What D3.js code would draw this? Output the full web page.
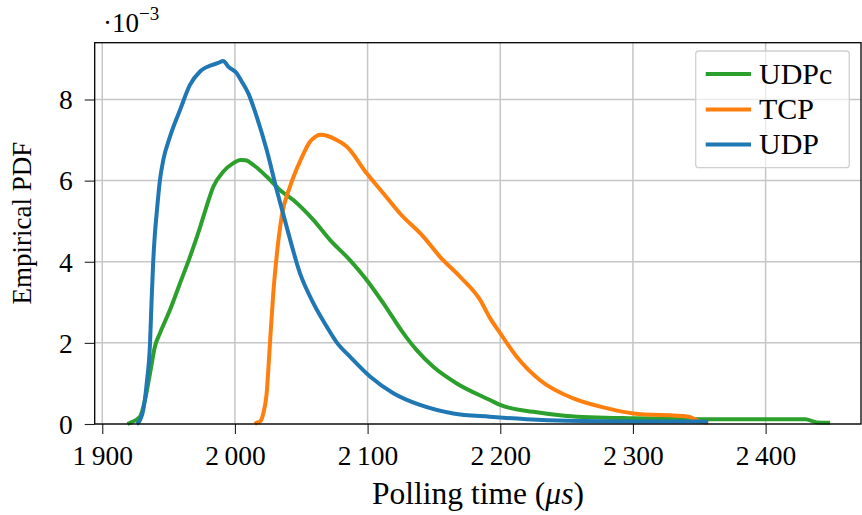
<!DOCTYPE html>
<html><head><meta charset="utf-8">
<script src="https://cdn.jsdelivr.net/npm/d3@7"></script>
<style>
body{margin:0;background:#fff}
svg{display:block}
text{font-family:"Liberation Serif","Times New Roman",serif;fill:#000}
</style>
</head><body>
<svg id="chart" width="862" height="515"></svg>
<script>
// ---- data (y in units of 1e-3) ----
const seriesNames = ["UDPc", "TCP", "UDP"];
const seriesColors = ["#2ca02c", "#ff7f0e", "#1f77b4"];

const xUDPc = [1919, 1921.0, 1928.4, 1932.2, 1936.0, 1939.7, 1943.5, 1951.0, 1958.6, 1966.1, 1973.7, 1978.0, 1983.7, 1991.2, 1998.8, 2004.0, 2008.0, 2013.8, 2023.9, 2033.9, 2044.0, 2059.1, 2071.6, 2086.7, 2099.3, 2111.8, 2126.9, 2137.0, 2149.5, 2167.2, 2192.3, 2199.9, 2224.9, 2250.1, 2300.3, 2350.6, 2400.0, 2429.8, 2438.6, 2448.6];
const yUDPc = [0, 0.03, 0.18, 0.59, 1.25, 1.91, 2.24, 2.81, 3.47, 4.12, 4.85, 5.30, 5.85, 6.22, 6.43, 6.51, 6.50, 6.39, 6.10, 5.77, 5.52, 5.03, 4.54, 4.04, 3.55, 2.98, 2.24, 1.82, 1.41, 1.00, 0.59, 0.47, 0.30, 0.20, 0.14, 0.12, 0.12, 0.12, 0.04, 0.03];

const xTCP = [2015, 2016.4, 2018.9, 2021.4, 2023.9, 2026.4, 2028.9, 2031.5, 2035.2, 2041.5, 2049.0, 2056.6, 2060.5, 2064.1, 2070.0, 2076.7, 2084.2, 2099.3, 2111.8, 2124.4, 2142.0, 2154.6, 2169.7, 2184.8, 2192.3, 2199.9, 2212.4, 2230.0, 2255.1, 2280.2, 2300.3, 2341.8, 2350.6, 2356.8];
const yTCP = [0, 0.03, 0.06, 0.26, 0.75, 1.99, 3.22, 4.15, 5.11, 5.85, 6.47, 6.96, 7.08, 7.13, 7.10, 7.00, 6.84, 6.18, 5.69, 5.19, 4.62, 4.12, 3.63, 3.06, 2.61, 2.24, 1.66, 1.08, 0.63, 0.39, 0.26, 0.18, 0.06, 0.03];

const xUDP = [1926, 1927.1, 1930.9, 1933.5, 1936.0, 1937.2, 1938.4, 1939.7, 1941.0, 1943.5, 1946.0, 1951.0, 1958.6, 1966.1, 1973.7, 1983.7, 1987.5, 1991.2, 1995.0, 2001.3, 2005.0, 2010.1, 2016.4, 2023.9, 2031.5, 2039.0, 2049.0, 2059.1, 2069.2, 2077.0, 2086.7, 2101.8, 2119.4, 2139.5, 2164.6, 2192.1, 2220.0, 2250.1, 2300.0, 2350.9, 2356.7];
const yUDP = [0, 0.03, 0.35, 1.0, 1.99, 3.06, 4.0, 4.70, 5.19, 6.02, 6.51, 7.08, 7.74, 8.36, 8.69, 8.86, 8.90, 8.95, 8.81, 8.65, 8.45, 8.15, 7.58, 6.76, 5.77, 4.86, 3.72, 2.98, 2.40, 2.00, 1.66, 1.17, 0.76, 0.47, 0.26, 0.18, 0.12, 0.08, 0.06, 0.06, 0.05];

const xTicks = [1900, 2000, 2100, 2200, 2300, 2400];
const xTickLabels = ["1\u2009900", "2\u2009000", "2\u2009100", "2\u2009200", "2\u2009300", "2\u2009400"];
const yTicks = [0, 2, 4, 6, 8];
const yTickLabels = ["0", "2", "4", "6", "8"];

const xDomain = [1894.3, 2471.9];
const yDomain = [0, 9.4];

// ---- layout ----
const svg = d3.select("#chart");
const L = 94.7, R = 861, T = 42.7, B = 424;
const x = d3.scaleLinear().domain(xDomain).range([L, R]);
const y = d3.scaleLinear().domain(yDomain).range([B, T]);

// grid
const grid = svg.append("g");
grid.selectAll("line.gx").data(xTicks).join("line")
  .attr("x1", d => x(d)).attr("x2", d => x(d)).attr("y1", T).attr("y2", B)
  .attr("stroke", "#c6c6c6").attr("stroke-width", 1.5);
grid.selectAll("line.gy").data(yTicks).join("line")
  .attr("y1", d => y(d)).attr("y2", d => y(d)).attr("x1", L).attr("x2", R)
  .attr("stroke", "#c6c6c6").attr("stroke-width", 1.5);

// lines (drawn UDPc, TCP, UDP)
const seriesX = [xUDPc, xTCP, xUDP];
const seriesY = [yUDPc, yTCP, yUDP];
const line = d3.line().x(d => x(d[0])).y(d => y(d[1])).curve(d3.curveMonotoneX);
seriesNames.forEach((n, i) => {
  const pts = seriesX[i].map((v, j) => [v, seriesY[i][j]]);
  svg.append("path").datum(pts).attr("d", line)
    .attr("fill", "none").attr("stroke", seriesColors[i])
    .attr("stroke-width", 4).attr("stroke-linejoin", "round");
});

// axes
const xAxis = d3.axisBottom(x).tickValues(xTicks).tickSize(10).tickPadding(6)
  .tickFormat((d, i) => xTickLabels[i]);
const gx = svg.append("g").attr("transform", `translate(0,${B})`).call(xAxis);
gx.select(".domain").remove();
gx.selectAll(".tick line").attr("stroke", "#222").attr("stroke-width", 1.1);
gx.selectAll(".tick text").attr("font-size", 27.5).attr("font-family", "Liberation Serif")
  .attr("y", 41).attr("dy", null);

const yAxis = d3.axisLeft(y).tickValues(yTicks).tickSize(10).tickPadding(10)
  .tickFormat((d, i) => yTickLabels[i]);
const gy = svg.append("g").attr("transform", `translate(${L},0)`).call(yAxis);
gy.select(".domain").remove();
gy.selectAll(".tick line").attr("stroke", "#222").attr("stroke-width", 1.1);
gy.selectAll(".tick text").attr("font-size", 27.5).attr("font-family", "Liberation Serif")
  .attr("x", -22).attr("dy", "0.34em");

// frame
svg.append("rect").attr("x", L).attr("y", T).attr("width", R - L).attr("height", B - T)
  .attr("fill", "none").attr("stroke", "#000").attr("stroke-width", 1.3);

// exponent
const ex = svg.append("text").attr("x", 103).attr("y", 31.7).attr("font-size", 27);
ex.append("tspan").text("\u00b710");
ex.append("tspan").attr("font-size", 19).attr("dy", -12).text("\u22123");

// axis titles
const xl = svg.append("text").attr("x", 478).attr("y", 504).attr("text-anchor", "middle").attr("font-size", 31.5);
xl.append("tspan").text("Polling time (");
xl.append("tspan").attr("font-style", "italic").text("\u03bcs");
xl.append("tspan").text(")");

svg.append("text").attr("transform", "translate(31,223) rotate(-90)")
  .attr("text-anchor", "middle").attr("font-size", 27).text("Empirical PDF");

// legend
const lg = svg.append("g");
lg.append("rect").attr("x", 695.7).attr("y", 51).attr("width", 153.6).attr("height", 116.7)
  .attr("rx", 3).attr("fill", "#fff").attr("fill-opacity", 0.65)
  .attr("stroke", "#d0d0d0").attr("stroke-width", 1.3);
const rowY = [74, 109.5, 144.5];
seriesNames.forEach((n, i) => {
  lg.append("line").attr("x1", 705.7).attr("x2", 751).attr("y1", rowY[i]).attr("y2", rowY[i])
    .attr("stroke", seriesColors[i]).attr("stroke-width", 4);
  lg.append("text").attr("x", 759).attr("y", rowY[i] + 9.8).attr("font-size", 30).text(n);
});
</script>
</body></html>
